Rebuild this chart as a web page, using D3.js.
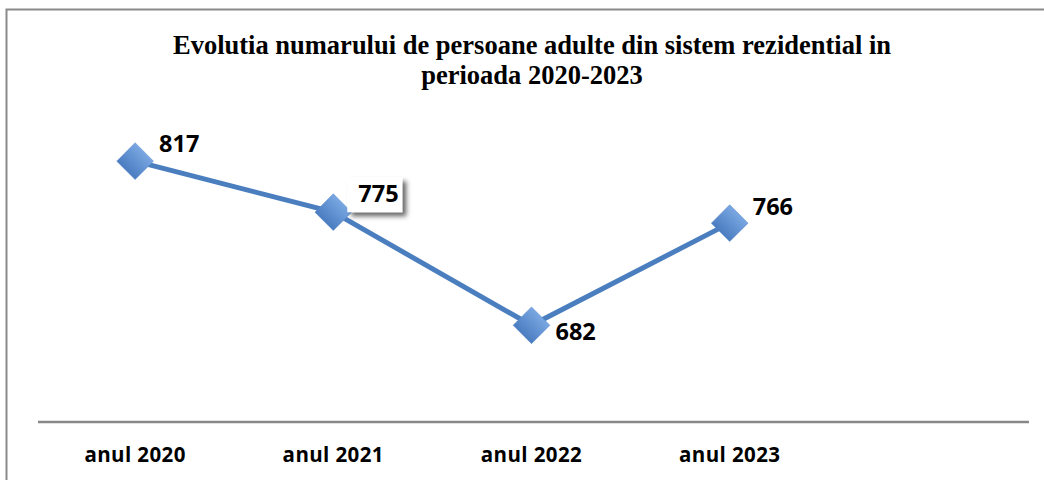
<!DOCTYPE html>
<html><head><meta charset="utf-8">
<script src="https://cdn.jsdelivr.net/npm/d3@7"></script>
<style>body{margin:0;background:#fff}svg{display:block}</style>
</head><body>
<svg id="c" width="1044" height="480"></svg>
<script>
const categories = ["anul 2020","anul 2021","anul 2022","anul 2023",""];
const values = [817, 775, 682, 766];
const titleLines = ["Evolutia numarului de persoane adulte din sistem rezidential in","perioada 2020-2023"];
const yDomain = [600, 850];

const svg = d3.select("#c");
const defs = svg.append("defs");
const grad = defs.append("linearGradient").attr("id","dg").attr("x1",0).attr("y1",0).attr("x2",0).attr("y2",1);
grad.append("stop").attr("offset","0%").attr("stop-color","#79a7e2");
grad.append("stop").attr("offset","100%").attr("stop-color","#4a7cc0");
const f = defs.append("filter").attr("id","sh").attr("x","-20%").attr("y","-20%").attr("width","160%").attr("height","160%");
f.append("feDropShadow").attr("dx",4).attr("dy",4).attr("stdDeviation",2.5).attr("flood-color","#000").attr("flood-opacity",0.6);

// outer border
svg.append("path").attr("d","M6.5,480 V9.5 H1044").attr("fill","none").attr("stroke","#8a8a8a").attr("stroke-width",2);

svg.append("text").attr("font-family","'Liberation Serif','Times New Roman',serif")
  .attr("font-weight","bold").attr("font-size",26.5).attr("text-anchor","middle")
  .selectAll("tspan").data(titleLines).join("tspan").attr("x",532).attr("y",(d,i)=>54+i*30).text(d=>d);

const x = d3.scaleBand().domain(categories.map((d,i)=>i)).range([38,1029]);
const y = d3.scaleLinear().domain(yDomain).range([425,121]);
const cx = i => x(i)+x.bandwidth()/2 - 2;

svg.append("line").attr("x1",38).attr("x2",1029).attr("y1",422).attr("y2",422).attr("stroke","#888").attr("stroke-width",2.5);

svg.append("g").selectAll("text").data(categories).join("text")
  .attr("x",(d,i)=>cx(i)).attr("y",462).attr("text-anchor","middle")
  .attr("font-family","'Open Sans',sans-serif").attr("font-weight","bold").attr("font-size",20.5)
  .attr("letter-spacing","0.4").text(d=>d);

const line = d3.line().x((d,i)=>cx(i)).y(d=>y(d));
svg.append("path").datum(values).attr("d",line).attr("fill","none").attr("stroke","#4a7ebf").attr("stroke-width",5);

svg.append("g").selectAll("rect").data(values).join("rect")
  .attr("x",-13).attr("y",-13).attr("width",26).attr("height",26)
  .attr("transform",(d,i)=>`translate(${cx(i)},${y(d)}) rotate(45)`)
  .attr("fill","url(#dg)").attr("stroke","#5b8bcc").attr("stroke-width",0.5);

// label offsets: [dx to text start, dy to baseline]
const offs = [[24,-9],[25,-10],[24,15],[23,-8]];
const lg = svg.append("g").selectAll("g").data(values).join("g")
  .attr("transform",(d,i)=>`translate(${cx(i)+offs[i][0]},${y(d)+offs[i][1]})`);
lg.filter((d,i)=>i===1).append("rect").attr("x",-11).attr("y",-25).attr("width",55).attr("height",35)
  .attr("fill","#fff").attr("filter","url(#sh)");
lg.append("text").attr("x",0).attr("y",0)
  .attr("font-family","'Open Sans',sans-serif").attr("font-weight","bold").attr("font-size",23.5)
  .text(d=>d);
</script>
</body></html>
